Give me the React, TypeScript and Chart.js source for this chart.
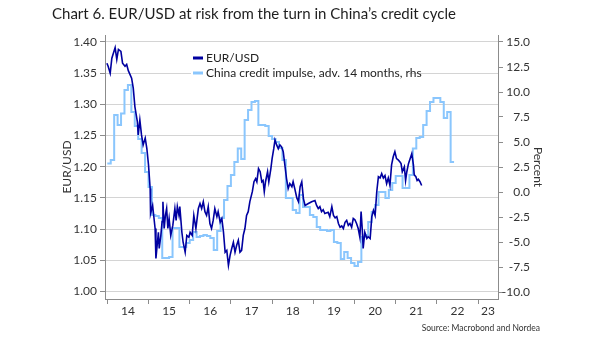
import { useEffect, useRef } from 'react';
import { Chart, registerables } from 'chart.js';

Chart.register(...registerables);

const TITLE = 'Chart 6. EUR/USD at risk from the turn in China\u2019s credit cycle';
const SOURCE = 'Source: Macrobond and Nordea';
const SERIES_NAMES = ['EUR/USD', 'China credit impulse, adv. 14 months, rhs'];
const LEFT_TITLE = 'EUR/USD';
const RIGHT_TITLE = 'Percent';
const YEAR_BOUNDARIES = [2014, 2015, 2016, 2017, 2018, 2019, 2020, 2021, 2022, 2023];
const YEAR_LABELS = ['14', '15', '16', '17', '18', '19', '20', '21', '22', '23'];
const X_MIN = 2013.944;
const X_MAX = 2023.483;

// EUR/USD (lhs): decimal year and level
const eurYears = [
  2013.99, 2014.02, 2014.07, 2014.11, 2014.19, 2014.23, 2014.27, 2014.33, 2014.37, 2014.43,
  2014.47, 2014.51, 2014.59, 2014.63, 2014.67, 2014.73, 2014.75, 2014.79, 2014.83, 2014.87,
  2014.92, 2014.96, 2015.0, 2015.04, 2015.05, 2015.1, 2015.16, 2015.18, 2015.24, 2015.26,
  2015.3, 2015.33, 2015.35, 2015.38, 2015.41, 2015.44, 2015.47, 2015.5, 2015.54, 2015.59,
  2015.64, 2015.67, 2015.7, 2015.74, 2015.76, 2015.81, 2015.84, 2015.89, 2015.93, 2015.98,
  2016.01, 2016.06, 2016.1, 2016.15, 2016.21, 2016.25, 2016.29, 2016.33, 2016.37, 2016.41,
  2016.45, 2016.49, 2016.53, 2016.57, 2016.61, 2016.66, 2016.69, 2016.74, 2016.78, 2016.82,
  2016.86, 2016.9, 2016.94, 2016.98, 2017.02, 2017.06, 2017.1, 2017.14, 2017.18, 2017.22,
  2017.26, 2017.3, 2017.34, 2017.38, 2017.42, 2017.46, 2017.52, 2017.56, 2017.6, 2017.63,
  2017.67, 2017.71, 2017.75, 2017.78, 2017.81, 2017.84, 2017.89, 2017.92, 2017.97, 2018.0,
  2018.04, 2018.07, 2018.11, 2018.15, 2018.19, 2018.23, 2018.27, 2018.3, 2018.33, 2018.35,
  2018.39, 2018.43, 2018.48, 2018.51, 2018.55, 2018.6, 2018.64, 2018.68, 2018.72, 2018.76,
  2018.8, 2018.88, 2018.96, 2019.04, 2019.08, 2019.12, 2019.16, 2019.2, 2019.24, 2019.28,
  2019.36, 2019.4, 2019.45, 2019.49, 2019.53, 2019.57, 2019.61, 2019.65, 2019.69, 2019.73,
  2019.77, 2019.81, 2019.85, 2019.89, 2019.93, 2019.97, 2020.01, 2020.05, 2020.09, 2020.13,
  2020.16, 2020.19, 2020.21, 2020.25, 2020.3, 2020.33, 2020.38, 2020.42, 2020.46, 2020.5,
  2020.54, 2020.58, 2020.62, 2020.66, 2020.7, 2020.74, 2020.78, 2020.82, 2020.86, 2020.9,
  2020.94, 2020.98, 2021.02, 2021.06, 2021.1, 2021.13, 2021.16, 2021.21, 2021.24, 2021.27,
  2021.31, 2021.35, 2021.39, 2021.43, 2021.45, 2021.49, 2021.52, 2021.55, 2021.59, 2021.63,
];
const eurValues = [
  1.366, 1.361, 1.35, 1.374, 1.391, 1.372, 1.388, 1.385, 1.366, 1.361,
  1.364, 1.354, 1.342, 1.326, 1.296, 1.272, 1.251, 1.275, 1.251, 1.235,
  1.246, 1.229, 1.203, 1.165, 1.125, 1.138, 1.101, 1.053, 1.095, 1.069,
  1.09, 1.112, 1.144, 1.101, 1.122, 1.133, 1.101, 1.117, 1.09, 1.106,
  1.133, 1.114, 1.136, 1.122, 1.136, 1.095, 1.079, 1.063, 1.09, 1.087,
  1.095, 1.09, 1.122, 1.101, 1.133, 1.141, 1.133, 1.144, 1.128, 1.122,
  1.136, 1.109, 1.101, 1.114, 1.133, 1.12, 1.128, 1.111, 1.117, 1.095,
  1.063, 1.066, 1.042, 1.058, 1.069, 1.079, 1.063, 1.074, 1.082, 1.063,
  1.066, 1.09, 1.101, 1.122, 1.128, 1.144, 1.16, 1.176, 1.181, 1.176,
  1.197, 1.192, 1.176, 1.178, 1.16, 1.176, 1.192, 1.176, 1.197, 1.213,
  1.229, 1.243, 1.235, 1.229, 1.235, 1.232, 1.224, 1.208, 1.192, 1.181,
  1.165, 1.173, 1.168, 1.176, 1.165, 1.15, 1.144, 1.168, 1.176, 1.149,
  1.138, 1.141, 1.144, 1.146, 1.138, 1.133, 1.136, 1.128, 1.131, 1.125,
  1.127, 1.12, 1.136, 1.122, 1.118, 1.12, 1.109, 1.103, 1.105, 1.101,
  1.111, 1.114, 1.106, 1.109, 1.103, 1.117, 1.115, 1.109, 1.101, 1.087,
  1.128, 1.098, 1.069, 1.095, 1.085, 1.088, 1.085, 1.12, 1.13, 1.122,
  1.16, 1.184, 1.182, 1.189, 1.182, 1.186, 1.173, 1.182, 1.17, 1.203,
  1.216, 1.224, 1.213, 1.211, 1.208, 1.205, 1.192, 1.2, 1.178, 1.192,
  1.205, 1.213, 1.221, 1.203, 1.187, 1.184, 1.178, 1.18, 1.176, 1.17,
];

// China credit impulse, adv. 14 months (rhs), monthly from Jan 2014, percent
const impulseStartYear = 2014;
const impulseValues = [
  2.85, 3.2, 7.7, 6.7, 7.85, 10.2, 10.7, 8.0, 6.6, 5.3,
  3.9, 2.0, 0.5, -2.3, -2.4, -2.6, -6.6, -6.6, -6.5, -3.6,
  -3.6, -5.5, -5.5, -5.1, -4.8, -4.0, -4.5, -4.4, -4.3, -4.4,
  -4.6, -5.8, -3.9, -2.6, -0.8, 0.6, 1.7, 3.0, 4.35, 3.3,
  7.2, 8.2, 9.0, 9.1, 6.7, 6.7, 6.6, 5.6, 5.3, 5.0,
  4.4, 3.2, -0.6, -0.6, -1.8, -2.1, -0.3, -1.5, -1.5, -2.3,
  -2.5, -3.5, -3.8, -3.8, -3.9, -3.8, -5.0, -5.1, -6.7, -6.0,
  -6.6, -7.1, -7.4, -7.0, -4.5, -4.3, -3.0, -2.0, -1.3, 0.0,
  0.0, -0.6, 0.2, 0.9, 1.6, 1.6, 0.4, 0.4, 1.7, 4.35,
  5.4, 5.5, 6.7, 8.1, 9.0, 9.4, 9.4, 9.0, 7.4, 8.0,
  3.0, 3.0,
];

const EUR_COLOR = '#0000a0';
const IMPULSE_COLOR = '#8ac6fd';
const FONT = 'Lato, "Open Sans", sans-serif';
const TEXT_COLOR = '#333333';
const AXIS_COLOR = '#8c8c8c';
const GRID_COLOR = '#d4d4d4';

const xTickValues = (() => {
  const vals: number[] = [];
  YEAR_BOUNDARIES.forEach((y, i) => {
    vals.push(y);
    const next = i < YEAR_BOUNDARIES.length - 1 ? YEAR_BOUNDARIES[i + 1] : X_MAX;
    vals.push((y + next) / 2);
  });
  return vals;
})();

const overlayPlugin = {
  id: 'overlayTexts',
  afterDatasetsDraw(chart: any) {
    const ctx = chart.ctx as CanvasRenderingContext2D;
    ctx.save();
    ctx.fillStyle = '#ffffff';
    ctx.fillRect(191, 49, 218, 32);
    const rows = [
      { name: SERIES_NAMES[0], color: EUR_COLOR, y: 58 },
      { name: SERIES_NAMES[1], color: IMPULSE_COLOR, y: 73 },
    ];
    ctx.font = `12px ${FONT}`;
    ctx.textBaseline = 'middle';
    ctx.textAlign = 'left';
    rows.forEach((r) => {
      ctx.strokeStyle = r.color;
      ctx.lineWidth = 3;
      ctx.beginPath();
      ctx.moveTo(193, r.y);
      ctx.lineTo(203, r.y);
      ctx.stroke();
      ctx.fillStyle = '#222222';
      ctx.fillText(r.name, 206, r.y);
    });
    ctx.restore();
  },
  afterDraw(chart: any) {
    const ctx = chart.ctx as CanvasRenderingContext2D;
    ctx.save();
    ctx.textBaseline = 'middle';
    ctx.fillStyle = '#1e1e1e';
    ctx.textAlign = 'left';
    ctx.font = `15px ${FONT}`;
    ctx.fillText(TITLE, 52, 14);
    ctx.fillStyle = TEXT_COLOR;
    ctx.textAlign = 'right';
    ctx.font = `8.5px ${FONT}`;
    ctx.fillText(SOURCE, 540, 328);
    ctx.restore();
  },
};

export default function App() {
  const ref = useRef<HTMLCanvasElement | null>(null);

  useEffect(() => {
    if (!ref.current) return;
    const chart = new Chart(ref.current, {
      type: 'line',
      data: {
        datasets: [
          {
            label: SERIES_NAMES[0],
            data: eurYears.map((x, i) => ({ x, y: eurValues[i] })),
            borderColor: EUR_COLOR,
            borderWidth: 1.6,
            pointRadius: 0,
            tension: 0,
            yAxisID: 'y',
          },
          {
            label: SERIES_NAMES[1],
            data: impulseValues.map((v, i) => ({ x: impulseStartYear + i / 12, y: v })),
            borderColor: IMPULSE_COLOR,
            borderWidth: 2,
            pointRadius: 0,
            stepped: true,
            yAxisID: 'y1',
          },
        ],
      },
      options: {
        animation: false,
        responsive: false,
        maintainAspectRatio: false,
        layout: { padding: { top: 35, left: 0, right: 75, bottom: 0 } },
        plugins: {
          legend: { display: false },
          tooltip: { enabled: false },
          title: { display: false },
        },
        scales: {
          x: {
            type: 'linear',
            position: 'bottom',
            min: X_MIN,
            max: X_MAX,
            afterBuildTicks: (scale: any) => {
              scale.ticks = xTickValues.map((value) => ({ value }));
            },
            afterFit: (scale: any) => {
              scale.height = 42;
            },
            border: { display: true, color: AXIS_COLOR, width: 1 },
            grid: {
              drawOnChartArea: false,
              drawTicks: true,
              tickLength: 5,
              tickColor: (c: any) =>
                c.tick && Number.isInteger(c.tick.value) ? AXIS_COLOR : 'rgba(0,0,0,0)',
            },
            ticks: {
              autoSkip: false,
              maxRotation: 0,
              minRotation: 0,
              padding: 0,
              color: TEXT_COLOR,
              font: { family: FONT, size: 12 },
              callback: (value: any, index: number) =>
                index % 2 === 1 ? YEAR_LABELS[(index - 1) / 2] : '',
            },
          },
          y: {
            type: 'linear',
            position: 'left',
            min: 0.98798,
            max: 1.41122,
            afterFit: (scale: any) => {
              scale.width = 105;
            },
            border: { display: true, color: AXIS_COLOR, width: 1 },
            grid: {
              color: GRID_COLOR,
              lineWidth: 1,
              drawTicks: true,
              tickLength: 5,
              tickColor: AXIS_COLOR,
            },
            ticks: {
              stepSize: 0.05,
              includeBounds: false,
              padding: 3,
              color: TEXT_COLOR,
              font: { family: FONT, size: 12 },
              callback: (v: any) => Number(v).toFixed(2),
            },
            title: {
              display: true,
              text: LEFT_TITLE,
              color: TEXT_COLOR,
              font: { family: FONT, size: 12 },
              padding: { top: 60, bottom: 0 },
            },
          },
          y1: {
            type: 'linear',
            position: 'right',
            min: -10.7,
            max: 15.7,
            afterFit: (scale: any) => {
              scale.width = 32;
            },
            border: { display: true, color: AXIS_COLOR, width: 1 },
            grid: {
              drawOnChartArea: false,
              drawTicks: true,
              tickLength: 5,
              tickColor: AXIS_COLOR,
            },
            ticks: {
              stepSize: 2.5,
              includeBounds: false,
              crossAlign: 'far',
              color: TEXT_COLOR,
              font: { family: FONT, size: 12 },
              callback: (v: any) => Number(v).toFixed(1),
            },
            title: {
              display: true,
              text: RIGHT_TITLE,
              color: TEXT_COLOR,
              font: { family: FONT, size: 12 },
              padding: { top: -14.7, bottom: 0 },
            },
          },
        },
      },
      plugins: [overlayPlugin],
    });
    return () => chart.destroy();
  }, []);

  return (
    <div style={{ position: 'fixed', left: 0, top: 0, width: 605, height: 341, background: '#ffffff' }}>
      <canvas ref={ref} width={605} height={341} style={{ display: 'block' }} />
    </div>
  );
}
